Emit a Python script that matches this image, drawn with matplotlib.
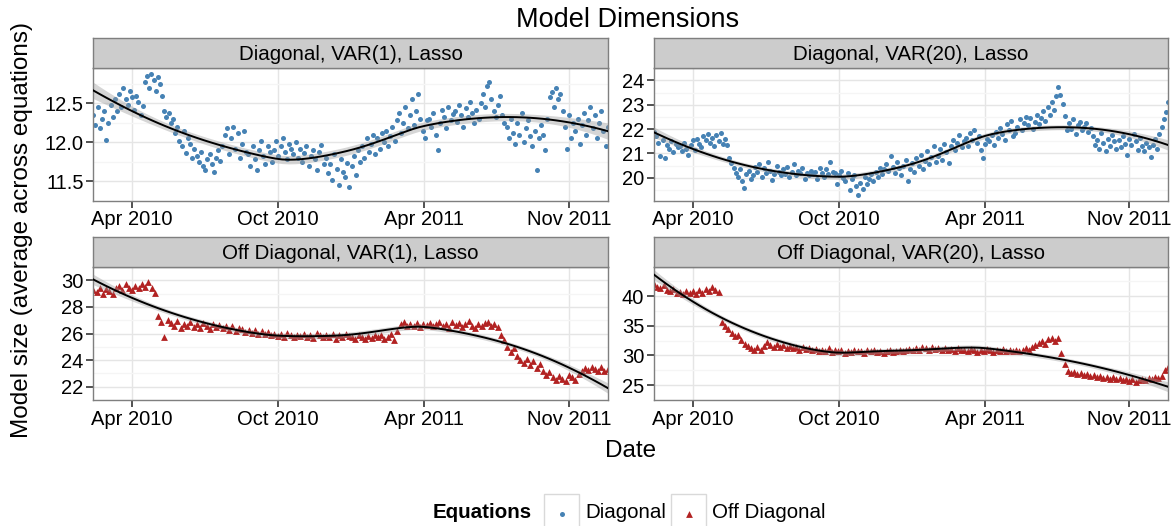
import numpy as np
import matplotlib
matplotlib.use("Agg")
import matplotlib.pyplot as plt
from matplotlib.patches import Rectangle

plt.rcParams['font.family'] = ['Liberation Sans', 'DejaVu Sans']

date_labels = ["Apr 2010", "Oct 2010", "Apr 2011", "Nov 2011"]
panel_titles = ["Diagonal, VAR(1), Lasso", "Diagonal, VAR(20), Lasso",
                "Off Diagonal, VAR(1), Lasso", "Off Diagonal, VAR(20), Lasso"]

diag_var1 = [
    12.35, 12.22, 12.45, 12.18, 12.30, 12.40, 12.03, 12.25, 12.48, 12.33, 12.55, 12.40,
    12.62, 12.45, 12.70, 12.55, 12.48, 12.66, 12.58, 12.42, 12.60, 12.52, 12.35, 12.47,
    12.78, 12.85, 12.70, 12.88, 12.80, 12.66, 12.84, 12.75, 12.60, 12.40, 12.32, 12.38,
    12.25, 12.30, 12.12, 12.20, 12.02, 11.95, 12.15, 11.86, 12.05, 11.98, 11.80, 11.92,
    11.82, 11.75, 11.88, 11.70, 11.65, 11.78, 11.85, 11.72, 11.62, 11.80, 11.90, 11.76,
    11.95, 12.10, 12.18, 11.85, 12.05, 12.20, 11.92, 12.12, 11.80, 11.98, 12.15, 11.88,
    11.85, 11.70, 11.95, 11.78, 11.65, 11.90, 12.02, 11.82, 11.72, 11.95, 11.88, 11.75,
    11.90, 12.02, 11.82, 11.95, 12.05, 11.88, 11.78, 11.98, 11.92, 11.85, 12.00, 11.80,
    11.92, 11.75, 11.86, 11.95, 11.70, 11.82, 11.90, 11.78, 11.65, 11.88, 11.96, 11.72,
    11.80, 11.60, 11.72, 11.52, 11.85, 11.66, 11.45, 11.78, 11.62, 11.55, 11.74, 11.42,
    11.70, 11.82, 11.58, 11.90, 11.75, 11.95, 11.80, 12.05, 11.88, 11.98, 12.10, 11.85,
    12.05, 11.92, 12.12, 12.00, 12.15, 11.95, 12.08, 12.20, 12.02, 12.28, 12.38, 12.12,
    12.25, 12.45, 12.18, 12.35, 12.55, 12.22, 12.40, 12.62, 12.30, 12.15, 12.05, 12.28,
    12.30, 12.20, 12.38, 12.10, 11.90, 12.25, 12.42, 12.32, 12.18, 12.45, 12.28, 12.36,
    12.40, 12.26, 12.48, 12.35, 12.20, 12.44, 12.32, 12.52, 12.38, 12.25, 12.42, 12.30,
    12.50, 12.62, 12.45, 12.72, 12.78, 12.55, 12.40, 12.32, 12.48, 12.60, 12.35, 12.25,
    12.20, 12.05, 12.30, 12.12, 11.98, 12.25, 12.10, 12.38, 12.00, 12.18, 12.28, 12.08,
    11.95, 12.15, 11.65, 12.05, 12.22, 12.10, 11.90, 12.30, 12.58, 12.65, 12.45, 12.70,
    12.55, 12.62, 12.40, 12.20, 11.92, 12.35, 12.05, 12.25, 12.15, 12.30, 11.98, 12.22,
    12.38, 12.10, 12.28, 12.45, 12.18, 12.35, 12.05, 12.25, 12.40, 12.15, 11.95, 12.20,
]

diag_var20 = [
    21.90, 21.70, 21.45, 20.90, 21.55, 20.80, 21.35, 21.20, 21.50, 21.05, 21.40, 21.25,
    21.30, 21.10, 21.45, 21.20, 20.95, 21.35, 21.55, 21.15, 21.60, 21.40, 21.25, 21.70,
    21.55, 21.80, 21.45, 21.65, 21.30, 21.75, 21.50, 21.85, 21.40, 21.60, 21.35, 20.80,
    20.60, 20.40, 20.20, 20.05, 20.35, 19.85, 19.60, 20.15, 20.30, 19.95, 20.10, 20.45,
    20.25, 20.55, 20.05, 20.40, 20.20, 20.65, 20.30, 19.90, 20.15, 20.50, 20.25, 20.10,
    20.35, 20.15, 20.45, 20.05, 20.25, 20.55, 20.10, 20.30, 20.20, 20.40, 19.95, 20.20,
    20.10, 20.30, 20.15, 20.25, 19.95, 20.40, 20.20, 20.05, 20.35, 20.15, 20.65, 20.25,
    20.20, 19.75, 20.10, 20.30, 20.00, 19.85, 20.20, 19.50, 19.95, 20.10, 19.65, 19.30,
    19.80, 19.55, 20.05, 19.75, 19.95, 20.15, 19.85, 20.25, 20.05, 20.40, 20.15, 20.35,
    20.55, 20.30, 20.90, 20.45, 20.20, 20.65, 20.40, 20.10, 20.50, 20.75, 19.85, 20.35,
    20.60, 20.25, 20.80, 20.50, 20.95, 20.35, 20.70, 21.10, 20.55, 20.85, 21.30, 20.65,
    20.90, 21.20, 20.75, 21.40, 21.05, 20.60, 21.30, 21.55, 21.15, 21.45, 21.75, 21.25,
    21.50, 21.65, 21.30, 21.85, 21.55, 21.95, 21.45, 21.70, 21.15, 20.80, 21.40, 21.60,
    21.50, 21.75, 21.35, 21.90, 21.65, 22.05, 21.80, 21.55, 22.20, 21.95, 22.35, 21.70,
    21.85, 22.10, 22.40, 21.95, 22.25, 22.50, 22.15, 22.45, 22.00, 22.30, 22.60, 22.20,
    22.45, 22.75, 22.35, 22.90, 22.60, 23.10, 22.80, 23.35, 23.75, 23.40, 23.05, 22.55,
    21.95, 22.25, 22.00, 22.40, 21.80, 22.15, 22.30, 21.95, 22.10, 22.25, 21.90, 22.05,
    21.70, 21.35, 21.55, 21.20, 21.85, 21.45, 21.10, 21.60, 21.30, 21.75, 21.50, 21.20,
    21.55, 21.25, 21.70, 21.40, 20.95, 21.60, 21.35, 21.80, 21.50, 21.15, 21.65, 21.30,
    21.10, 21.45, 21.25, 20.85, 21.35, 21.60, 21.20, 21.80, 22.10, 22.40, 22.70, 23.10,
]

offdiag_var1 = [
    29.30, 29.10, 29.45, 29.00, 29.35, 29.20, 28.95, 29.40,
    29.55, 29.30, 29.70, 29.45, 29.25, 29.60, 29.40, 29.75,
    29.50, 29.85, 29.40, 29.05, 27.30, 26.90, 25.70, 27.05,
    26.80, 26.60, 26.95, 26.40, 26.75, 26.55, 26.85, 26.50,
    26.70, 26.45, 26.80, 26.60, 26.35, 26.75, 26.50, 26.65,
    26.40, 26.60, 26.30, 26.55, 26.20, 26.45, 26.35, 26.15,
    26.30, 26.05, 26.25, 26.00, 26.20, 25.95, 26.10, 25.85,
    26.00, 25.80, 25.95, 25.75, 26.05, 25.85, 25.70, 25.90,
    25.80, 26.00, 25.75, 25.90, 25.65, 26.05, 25.85, 25.70,
    25.90, 25.75, 25.95, 25.60, 25.85, 25.70, 26.00, 25.80,
    25.75, 25.60, 25.85, 25.70, 25.55, 25.80, 25.65, 25.90,
    25.70, 25.85, 25.60, 25.75, 26.00, 25.50, 26.20, 26.70,
    26.85, 26.55, 26.75, 26.60, 26.80, 26.50, 26.70, 26.65,
    26.80, 26.55, 26.75, 26.90, 26.60, 26.70, 26.45, 26.85,
    26.65, 26.80, 26.50, 26.70, 26.95, 26.60, 26.40, 26.75,
    26.55, 26.80, 26.90, 26.60, 26.75, 26.50, 25.90, 25.50,
    25.00, 24.60, 24.90, 24.30, 24.00, 23.80, 24.10, 23.60,
    23.90, 23.40, 23.70, 23.20, 22.90, 23.10, 22.70, 22.50,
    22.80, 22.60, 22.40, 22.90, 22.70, 22.50, 22.95, 23.20,
    23.40, 23.25, 23.50, 23.30, 23.15, 23.45, 23.20, 23.35,
]

offdiag_var20 = [
    42.00, 41.60, 41.30, 41.80, 41.00, 40.80, 41.20, 40.50,
    40.70, 40.30, 40.90, 40.50, 40.80, 40.40, 41.00, 40.60,
    41.20, 40.90, 41.50, 41.00, 40.70, 35.60, 35.00, 34.40,
    33.80, 33.20, 33.50, 32.60, 32.00, 31.60, 31.20, 31.00,
    31.40, 30.90, 31.60, 32.20, 31.80, 31.50, 32.00, 31.40,
    31.70, 31.30, 31.60, 31.20, 31.50, 31.00, 31.40, 31.10,
    31.20, 30.90, 31.10, 30.70, 31.00, 30.80, 31.20, 30.60,
    30.90, 30.70, 31.00, 30.50, 30.80, 30.60, 30.90, 30.70,
    30.80, 30.50, 30.90, 30.70, 31.00, 30.60, 30.80, 30.50,
    30.70, 30.90, 30.60, 30.80, 31.00, 30.70, 30.90, 31.10,
    31.00, 31.30, 30.90, 31.50, 31.20, 31.00, 31.40, 31.10,
    31.20, 30.90, 31.30, 31.00, 31.10, 30.80, 31.20, 30.90,
    31.00, 30.70, 31.10, 30.90, 30.60, 31.00, 30.80, 31.10,
    30.90, 30.60, 31.00, 30.80, 31.10, 30.70, 30.90, 30.80,
    31.00, 30.70, 30.90, 31.20, 31.00, 31.40, 31.80, 32.10,
    32.40, 32.00, 32.70, 33.00, 32.50, 32.90, 30.50, 28.50,
    27.40, 27.00, 27.20, 26.80, 27.10, 26.70, 26.90, 26.50,
    26.70, 26.40, 26.60, 26.20, 26.40, 26.10, 26.30, 26.00,
    26.20, 25.90, 26.10, 25.70, 26.00, 25.60, 25.90, 26.10,
    25.80, 26.20, 26.00, 26.40, 26.20, 26.50, 27.60, 28.00,
]

y_ticks = [[11.5, 12.0, 12.5], [20, 21, 22, 23, 24],
           [22, 24, 26, 28, 30], [25, 30, 35, 40]]
y_limits = [(11.363, 12.95), (19.06, 24.04), (21.29, 30.79), (23.2, 44.9)]


def loess(x, y, span=0.75, ngrid=80):
    # local quadratic fit with tricube weights (what geom_smooth does)
    n = len(x)
    q = int(np.floor(n * span))

    def rows(pts):
        L = np.zeros((len(pts), n))
        for i, x0 in enumerate(pts):
            d = np.abs(x - x0)
            h = np.sort(d)[q - 1]
            w = np.clip(1 - (d / h) ** 3, 0, None) ** 3
            X = np.column_stack([np.ones(n), x - x0, (x - x0) ** 2])
            XtW = X.T * w
            L[i] = np.linalg.solve(XtW @ X, XtW)[0]
        return L

    xs = np.linspace(x.min(), x.max(), ngrid)
    Lg, Ld = rows(xs), rows(x)
    res = y - Ld @ y
    sigma = np.sqrt(np.sum(res ** 2) / (n - np.trace(Ld)))
    se = sigma * np.sqrt(np.sum(Lg ** 2, axis=1))
    return xs, Lg @ y, se


W, H = 1176, 526
fig = plt.figure(figsize=(W / 100, H / 100), dpi=100)


def rect(x0, y0, x1, y1):
    return [x0 / W, 1 - y1 / H, (x1 - x0) / W, (y1 - y0) / H]


cols = [(93.3, 607.7), (654, 1168)]
rows_px = [(38.3, 68.3, 200.7), (237, 267, 400)]
series = [diag_var1, diag_var20, offdiag_var1, offdiag_var20]
tick_frac = [0.075, 0.3595, 0.6435, 0.9245]

for k, vals in enumerate(series):
    r, c = divmod(k, 2)
    x0, x1 = cols[c]
    s0, s1, p1 = rows_px[r]
    y = np.array(vals)
    x = np.arange(len(y)) / (len(y) - 1)

    ax = fig.add_axes(rect(x0, s1, x1, p1))
    ax.set_facecolor('white')
    if r == 0:
        ax.scatter(x, y, s=13, color='#4682B4', linewidths=0, zorder=2)
    else:
        ax.scatter(x, y, s=24, marker='^', color='#B22222', linewidths=0, zorder=2)
    xs, fit, se = loess(x, y)
    ax.fill_between(xs, fit - 1.97 * se, fit + 1.97 * se, color='#999999',
                    alpha=0.4, linewidth=0, zorder=3)
    ax.plot(xs, fit, color='black', lw=1.4, zorder=4)

    ax.set_xlim(0, 1)
    ax.set_ylim(*y_limits[k])
    ax.set_xticks(tick_frac)
    ax.set_xticklabels(date_labels)
    yt = y_ticks[k]
    ax.set_yticks(yt)
    if r == 0 and c == 0:
        ax.set_yticklabels(["%.1f" % v for v in yt])
    else:
        ax.set_yticklabels(["%d" % v for v in yt])
    ax.set_yticks([(a + b) / 2 for a, b in zip(yt[:-1], yt[1:])]
                  + [yt[0] - (yt[1] - yt[0]) / 2, yt[-1] + (yt[1] - yt[0]) / 2],
                  minor=True)
    ax.grid(which='major', color='#E5E5E5', lw=1.0, zorder=0)
    ax.grid(which='minor', axis='y', color='#F5F5F5', lw=1.0, zorder=0)
    ax.set_axisbelow(True)
    ax.tick_params(which='major', length=5, width=1.2, color='#333333',
                   labelsize=14.5, labelcolor='black', pad=2)
    ax.tick_params(which='minor', length=0)
    for sp in ax.spines.values():
        sp.set_color('#7F7F7F')
        sp.set_linewidth(1.0)

    st = fig.add_axes(rect(x0, s0, x1, s1))
    st.set_facecolor('#CCCCCC')
    st.set_xticks([])
    st.set_yticks([])
    for sp in st.spines.values():
        sp.set_color('#7F7F7F')
        sp.set_linewidth(1.0)
    st.text(0.5, 0.46, panel_titles[k], ha='center', va='center', fontsize=14.8,
            transform=st.transAxes)

# overlay in pixel coordinates for titles and legend
ov = fig.add_axes([0, 0, 1, 1])
ov.set_xlim(0, W)
ov.set_ylim(H, 0)
ov.axis('off')
ov.text(628, 20, "Model Dimensions", ha='center', va='center', fontsize=19.5)
ov.text(631, 451, "Date", ha='center', va='center', fontsize=17.5)
ov.text(22, 230, "Model size (average across equations)", ha='center',
        va='center', rotation=90, fontsize=17.5)

ov.text(532, 513, "Equations", ha='right', va='center', fontsize=14.8,
        fontweight='bold')
ov.add_patch(Rectangle((544, 494), 35, 40, facecolor='white',
                       edgecolor='#D9D9D9', lw=1.0, clip_on=False))
ov.scatter([561.5], [514], s=13, color='#4682B4', linewidths=0)
ov.text(585, 513, "Diagonal", ha='left', va='center', fontsize=14.8)
ov.add_patch(Rectangle((671, 494), 35, 40, facecolor='white',
                       edgecolor='#D9D9D9', lw=1.0, clip_on=False))
ov.scatter([688.5], [514], s=24, marker='^', color='#B22222', linewidths=0)
ov.text(712, 513, "Off Diagonal", ha='left', va='center', fontsize=14.8)

fig.savefig("out.png", dpi=100)
